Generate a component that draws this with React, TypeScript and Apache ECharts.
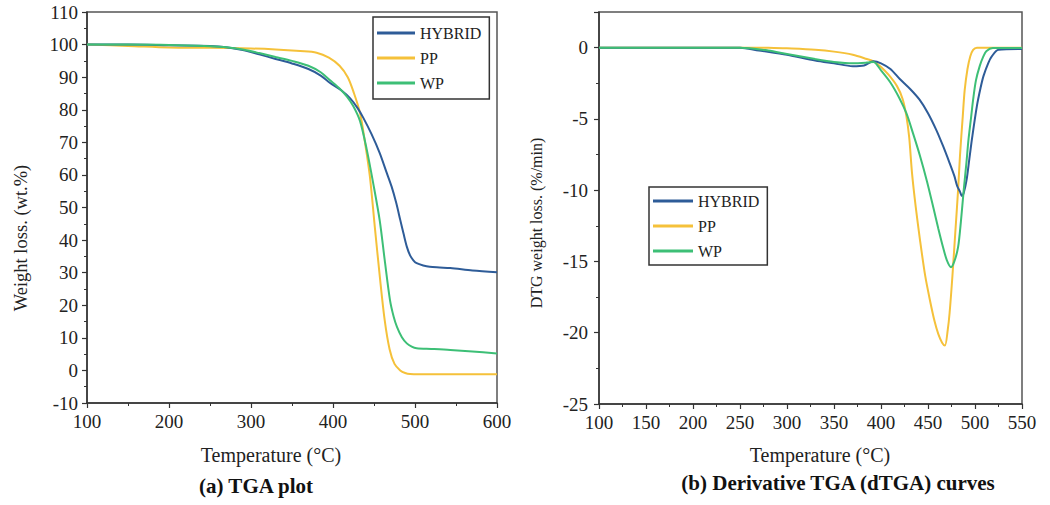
import React, { useEffect, useRef } from "react";
import * as echarts from "echarts";

// ---------- (a) TGA data ----------
const tgaHybridT = [100,150,200,250,270,290,310,330,350,370,385,396,410,421,430,437,447,457,465,471.5,477,482,486,490,494,498,502,510,518,530,543,570,600];
const tgaHybridW = [100,100,99.8,99.6,99.2,98.3,97,95.6,94.2,92.5,90.5,88.3,86,83.5,80.5,77.5,72.5,66.7,61,56.4,51.5,46.2,42,38,35.3,33.8,32.9,32.2,31.8,31.6,31.4,30.7,30.1];
const tgaPPT = [100,150,200,250,300,330,360,380,395,408,418,425,433,439,445,451,457,463,469,475,482,488,494,520,560,600];
const tgaPPW = [100,99.6,99.1,99,98.8,98.5,98,97.5,96,93.5,90,85.5,79,70,59.5,44,29,15.5,6.5,2,0,-0.8,-1.1,-1.2,-1.2,-1.2];
const tgaWPT = [100,150,200,250,270,290,310,330,350,370,385,396,408,417,425,433,441,449,457,463,469.5,474,478,484,490,496,502,520,543,570,600];
const tgaWPW = [100,100,99.9,99.5,99.2,98.5,97.4,96.2,95,93.5,91.5,89.1,86.5,84,81,76.5,68,57.5,46,34,21.6,16.5,13.4,10.2,8.3,7.3,6.8,6.6,6.3,5.8,5.2];

// ---------- (b) dTGA data ----------
const dtgHybridT = [100,250,270,300,330,350,370,382,392,400,410,420,431,441,450,459,466,473,478,481,484,486,488,491,494,497,502,506,509,514,518,525,550];
const dtgHybridD = [0,0,-0.2,-0.5,-0.9,-1.1,-1.3,-1.25,-0.96,-1.1,-1.5,-2.2,-2.9,-3.65,-4.6,-5.8,-6.9,-8.1,-9.0,-9.7,-10.1,-10.4,-10.2,-9.3,-7.8,-6.3,-4.1,-2.8,-2.0,-1.1,-0.6,-0.15,-0.1];
const dtgPPT = [100,280,300,330,350,370,385,392,400,408,417,423,427,430,433,437,441.5,447,452,457,461,465,468,471,473,476,479,482,484,487,489,492,495,498,502,550];
const dtgPPD = [0,0,-0.05,-0.15,-0.28,-0.5,-0.8,-0.96,-1.35,-1.9,-2.7,-3.6,-4.8,-6.3,-8.8,-11.2,-13.5,-16,-17.7,-19.2,-20.1,-20.7,-20.9,-19.8,-18.6,-16,-13,-10,-7.6,-4.8,-3,-1.5,-0.6,-0.15,0,0];
const dtgWPT = [100,250,280,300,330,350,370,385,392,400,410,420,427,434,441.5,449,456,461,466,470,474.5,478,482,485,488,491,493,496,498,501,505,509,512,519,550];
const dtgWPD = [0,0,-0.2,-0.45,-0.8,-1.0,-1.1,-1.05,-1.0,-1.6,-2.45,-3.6,-4.6,-6.0,-7.6,-9.4,-11.3,-12.7,-14.0,-14.9,-15.4,-15.0,-14.0,-12.2,-10,-8,-6.5,-4.8,-3.65,-2.3,-1.3,-0.6,-0.25,-0.03,-0.03];

const seriesNames = ["HYBRID", "PP", "WP"];
const colors = ["#2e5c98", "#f5c13a", "#3dbf76"];

const tgaXTicks = { min: 100, max: 600, interval: 100 };
const tgaYTicks = { min: -10, max: 110, interval: 10 };
const dtgXTicks = { min: 100, max: 550, interval: 50 };
const dtgYTicks = { min: -25, max: 2.5, interval: 5 };

const SERIF = '"Liberation Serif", "Times New Roman", serif';

const zip = (xs: number[], ys: number[]) => xs.map((x, i) => [x, ys[i]]);

export default function App() {
  const ref = useRef<HTMLDivElement>(null);
  useEffect(() => {
    if (!ref.current) return;
    const chart = echarts.init(ref.current, undefined, { renderer: "svg" });

    const axisCommon = {
      axisLine: { show: true, onZero: false, lineStyle: { color: "#333", width: 1.5 } },
      axisTick: { show: true, inside: false, length: 5, lineStyle: { color: "#333", width: 1.2 } },
      minorTick: { show: true, splitNumber: 2, length: 3, lineStyle: { color: "#333", width: 1 } },
      splitLine: { show: false },
      axisLabel: { fontFamily: SERIF, fontSize: 19, color: "#222" },
    };

    const tgaData = [zip(tgaHybridT, tgaHybridW), zip(tgaPPT, tgaPPW), zip(tgaWPT, tgaWPW)];
    const dtgData = [zip(dtgHybridT, dtgHybridD), zip(dtgPPT, dtgPPD), zip(dtgWPT, dtgWPD)];

    const mkSeries = (data: number[][][], idx: number) =>
      data.map((d, i) => ({
        type: "line",
        name: seriesNames[i],
        xAxisIndex: idx,
        yAxisIndex: idx,
        data: d,
        showSymbol: false,
        symbol: "none",
        smooth: 0.3,
        lineStyle: { color: colors[i], width: 2 },
        itemStyle: { color: colors[i] },
        z: i === 0 ? 3 : i === 2 ? 4 : 2,
      }));

    const legendCommon = {
      orient: "vertical",
      data: seriesNames,
      icon: "rect",
      borderColor: "#333",
      borderWidth: 1.5,
      borderRadius: 0,
      itemHeight: 3,
      itemGap: 9,
      selectedMode: false,
      textStyle: { fontFamily: SERIF, fontSize: 16, lineHeight: 16, color: "#222" },
    };

    chart.setOption({
      animation: false,
      backgroundColor: "#ffffff",
      grid: [
        { left: 87, top: 12, width: 410, height: 391, show: true, borderColor: "#555", borderWidth: 1.5, backgroundColor: "transparent" },
        { left: 599, top: 12, width: 423, height: 392, show: true, borderColor: "#555", borderWidth: 1.5, backgroundColor: "transparent" },
      ],
      xAxis: [
        { type: "value", gridIndex: 0, ...tgaXTicks, ...axisCommon, axisLabel: { ...axisCommon.axisLabel, margin: 9 } },
        { type: "value", gridIndex: 1, ...dtgXTicks, ...axisCommon, axisLabel: { ...axisCommon.axisLabel, margin: 9 } },
      ],
      yAxis: [
        { type: "value", gridIndex: 0, ...tgaYTicks, ...axisCommon, axisLabel: { ...axisCommon.axisLabel, margin: 9 } },
        {
          type: "value", gridIndex: 1, ...dtgYTicks, ...axisCommon,
          axisLabel: { ...axisCommon.axisLabel, margin: 11, formatter: (v: number) => (v % 5 === 0 ? String(v) : "") },
        },
      ],
      legend: [
        { ...legendCommon, left: 373, top: 17, itemWidth: 38, padding: [8, 8, 8, 4] },
        { ...legendCommon, left: 649, top: 187, itemWidth: 40, padding: [6, 8, 6, 4] },
      ],
      graphic: [
        { type: "text", x: 271, y: 455, style: { text: "Temperature (°C)", font: `20px ${SERIF}`, fill: "#222", textAlign: "center", textVerticalAlign: "middle" } },
        { type: "text", x: 820, y: 455, style: { text: "Temperature (°C)", font: `20px ${SERIF}`, fill: "#222", textAlign: "center", textVerticalAlign: "middle" } },
        { type: "text", x: 21, y: 238, rotation: Math.PI / 2, style: { text: "Weight loss. (wt.%)", font: `18.5px ${SERIF}`, fill: "#222", textAlign: "center", textVerticalAlign: "middle" } },
        { type: "text", x: 536, y: 223, rotation: Math.PI / 2, style: { text: "DTG weight loss. (%/min)", font: `16px ${SERIF}`, fill: "#222", textAlign: "center", textVerticalAlign: "middle" } },
        { type: "text", x: 256, y: 486, style: { text: "(a) TGA plot", font: `bold 21px ${SERIF}`, fill: "#111", textAlign: "center", textVerticalAlign: "middle" } },
        { type: "text", x: 838, y: 483, style: { text: "(b) Derivative TGA (dTGA) curves", font: `bold 21px ${SERIF}`, fill: "#111", textAlign: "center", textVerticalAlign: "middle" } },
      ],
      series: [...mkSeries(tgaData, 0), ...mkSeries(dtgData, 1)],
    });

    return () => chart.dispose();
  }, []);

  return (
    <div
      ref={ref}
      style={{ position: "fixed", left: 0, top: 0, width: 1050, height: 505, background: "#fff" }}
    />
  );
}
